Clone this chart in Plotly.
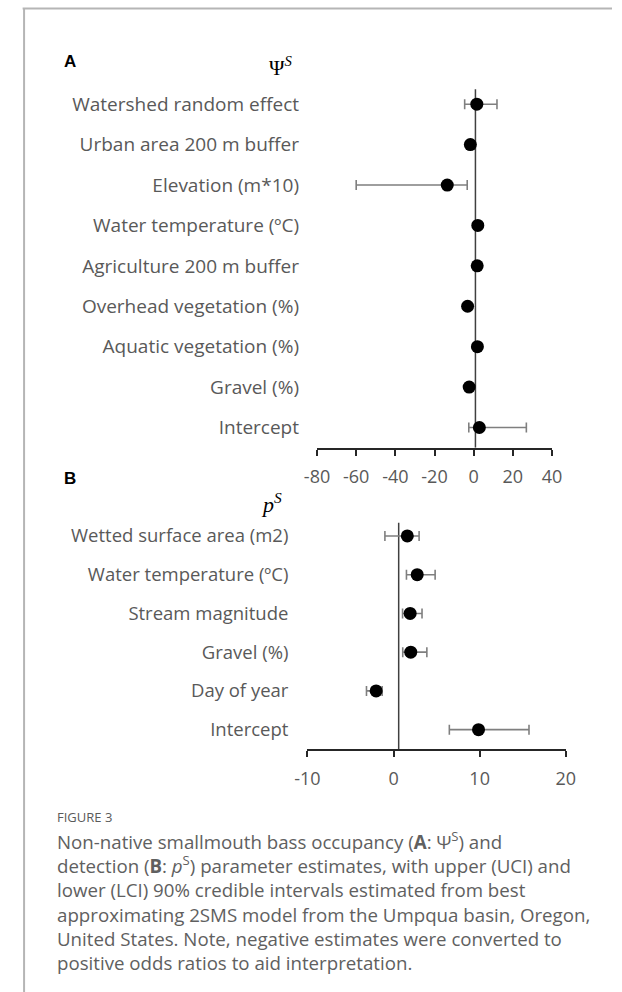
import plotly.graph_objects as go

W, H = 622, 992

# ---------------- data ----------------
A_labels = ["Watershed random effect", "Urban area 200 m buffer", "Elevation (m*10)",
            "Water temperature (ºC)", "Agriculture 200 m buffer", "Overhead vegetation (%)",
            "Aquatic vegetation (%)", "Gravel (%)", "Intercept"]
A_est = [1.6, -1.7, -13.5, 2.1, 1.8, -3.1, 1.9, -2.3, 2.9]
A_lci = [-4.6, -2.5, -60.0, 1.3, 1.0, -4.0, 1.1, -3.1, -2.5]
A_uci = [11.9, -0.9, -3.3, 2.9, 2.6, -2.2, 2.7, -1.5, 26.9]
A_ticks = [-80, -60, -40, -20, 0, 20, 40]
A_ticktext = ["-80", "-60", "-40", "-20", "0", "20", "40"]
A_cross = 0.9

B_labels = ["Wetted surface area (m2)", "Water temperature (ºC)", "Stream magnitude",
            "Gravel (%)", "Day of year", "Intercept"]
B_est = [1.6, 2.75, 1.93, 2.0, -2.02, 9.87]
B_lci = [-1.0, 1.5, 1.05, 1.07, -3.14, 6.48]
B_uci = [2.97, 4.83, 3.31, 3.87, -1.32, 15.73]
B_ticks = [-10, 0, 10, 20]
B_ticktext = ["-10", "0", "10", "20"]
B_cross = 0.6

caption_head = "FIGURE 3"
caption_lines = [
    "Non-native smallmouth bass occupancy (<b>A</b>: Ψ<sup>S</sup>) and",
    "detection (<b>B</b>: <i>p</i><sup>S</sup>) parameter estimates, with upper (UCI) and",
    "lower (LCI) 90% credible intervals estimated from best",
    "approximating 2SMS model from the Umpqua basin, Oregon,",
    "United States. Note, negative estimates were converted to",
    "positive odds ratios to aid interpretation.",
]

# ---------------- helpers ----------------
def px(x):
    return x / W

def py(y):
    return 1 - y / H

FAM = "Open Sans"
GRAY = "#595959"
ERR_COLOR = "#7f7f7f"

fig = go.Figure()

def add_panel(est, lci, uci, xa, ya):
    n = len(est)
    fig.add_trace(go.Scatter(
        x=est, y=list(range(n)), mode="markers",
        marker=dict(color="black", size=13),
        error_x=dict(type="data", symmetric=False,
                     array=[u - e for u, e in zip(uci, est)],
                     arrayminus=[e - l for e, l in zip(est, lci)],
                     color=ERR_COLOR, thickness=1.6, width=5),
        xaxis=xa, yaxis=ya, showlegend=False, hoverinfo="skip"))

add_panel(A_est, A_lci, A_uci, "x", "y")
add_panel(B_est, B_lci, B_uci, "x2", "y2")

axis_common = dict(showgrid=False, zeroline=False)
xline = dict(showline=True, linecolor="#262626", linewidth=2,
             ticks="outside", ticklen=6, tickwidth=2, tickcolor="#262626",
             ticklabelstandoff=6)

fig.update_layout(
    width=W, height=H, margin=dict(l=0, r=0, t=0, b=0),
    paper_bgcolor="white", plot_bgcolor="white",
    xaxis=dict(domain=[px(315.7), px(559.7)], range=[-80, 40],
               tickvals=A_ticks, ticktext=A_ticktext,
               tickfont=dict(family=FAM, size=18, color=GRAY),
               anchor="y", **xline, **axis_common),
    yaxis=dict(domain=[py(447.7), py(84)], range=[len(A_est) - 0.5, -0.5],
               tickvals=list(range(len(A_labels))), ticktext=A_labels,
               showline=False, ticks="", tickfont=dict(family=FAM, size=19, color=GRAY),
               ticklabelstandoff=17, anchor="x", **axis_common),
    xaxis2=dict(domain=[px(305.7), px(574)], range=[-10, 20],
                tickvals=B_ticks, ticktext=B_ticktext,
                tickfont=dict(family=FAM, size=18, color=GRAY),
                anchor="y2", **xline, **axis_common),
    yaxis2=dict(domain=[py(749), py(516.6)], range=[len(B_est) - 0.5, -0.5],
                tickvals=list(range(len(B_labels))), ticktext=B_labels,
                showline=False, ticks="", tickfont=dict(family=FAM, size=18.5, color=GRAY),
                ticklabelstandoff=18, anchor="x2", **axis_common),
)

shapes = [
    # frame
    dict(type="line", xref="paper", yref="paper", x0=px(10), x1=1, y0=py(8.5), y1=py(8.5),
         line=dict(color="#b5b5b5", width=2)),
    dict(type="line", xref="paper", yref="paper", x0=px(11.5), x1=px(11.5), y0=0, y1=py(8.5),
         line=dict(color="#b5b5b5", width=2)),
    # vertical category axes
    dict(type="line", xref="x", yref="y", x0=A_cross, x1=A_cross,
         y0=len(A_est) - 0.5, y1=-0.37, line=dict(color="#404040", width=1.5), layer="below"),
    dict(type="line", xref="x2", yref="y2", x0=B_cross, x1=B_cross,
         y0=len(B_est) - 0.5, y1=-0.34, line=dict(color="#404040", width=1.5), layer="below"),
]
fig.update_layout(shapes=shapes)

ann = []
ann.append(dict(text="<b>A</b>", x=px(51), y=py(61), xref="paper", yref="paper",
                xanchor="left", yanchor="middle", showarrow=False,
                font=dict(family="Liberation Sans", size=17, color="black")))
ann.append(dict(text="<b>B</b>", x=px(51), y=py(478), xref="paper", yref="paper",
                xanchor="left", yanchor="middle", showarrow=False,
                font=dict(family="Liberation Sans", size=17, color="black")))
ann.append(dict(text="Ψ<sup><i>S</i></sup>", x=px(264), y=py(66), xref="paper", yref="paper",
                xanchor="left", yanchor="middle", showarrow=False,
                font=dict(family="Liberation Serif", size=21, color="black")))
ann.append(dict(text="<i>p</i><sup><i>S</i></sup>", x=px(255), y=py(503), xref="paper", yref="paper",
                xanchor="left", yanchor="middle", showarrow=False,
                font=dict(family="Liberation Serif", size=22, color="black")))
ann.append(dict(text=caption_head, x=px(45), y=py(816.5), xref="paper", yref="paper",
                xanchor="left", yanchor="middle", showarrow=False, borderpad=0,
                font=dict(family=FAM, size=13, color="#5a5a5a")))
ann.append(dict(text="<br>".join(caption_lines), x=px(45), y=py(826), xref="paper", yref="paper",
                xanchor="left", yanchor="top", align="left", showarrow=False, borderpad=0,
                font=dict(family=FAM, size=18.7, color="#606060")))
fig.update_layout(annotations=ann)

fig.write_html("out.html")
